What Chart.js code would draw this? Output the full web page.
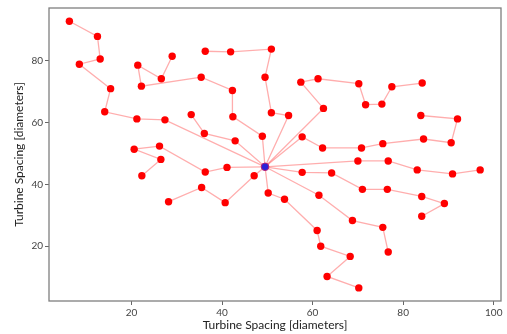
<!DOCTYPE html>
<html>
<head>
<meta charset="utf-8">
<script src="https://cdn.jsdelivr.net/npm/chart.js@4/dist/chart.umd.min.js"></script>
<style>
  html, body { margin: 0; padding: 0; background: #fff; }
  #wrap { width: 507px; height: 334px; position: relative; }
</style>
</head>
<body>
<div id="wrap"><canvas id="chart"></canvas></div>
<script>
// substation in the middle, every cable is a chain of turbines hanging off it
const hub = [49.5, 45.7]
const cable1 = [[27.4,60.9],[21.2,61.2],[14.1,63.5],[15.4,71.0],[8.5,78.9],[13.1,80.6],[12.5,87.9],[6.3,92.8]]
const cable2 = [[48.9,55.6],[42.4,61.9],[42.3,70.4],[35.4,74.7],[22.2,71.8],[21.4,78.6],[26.6,74.2],[29.0,81.5]]
const cable3 = [[54.7,62.3],[50.9,63.2],[49.5,74.7],[50.9,83.8],[41.9,82.9],[36.3,83.1]]
const cable4 = [[42.9,54.1],[36.1,56.5],[33.2,62.6]]
const cable5 = [[41.1,45.5],[36.3,44.0],[26.2,52.4],[20.6,51.4],[26.5,48.1],[22.3,42.8]]
const cable6 = [[47.1,42.8],[40.7,34.1],[35.5,39.0],[28.2,34.4]]
const cable7 = [[50.2,37.2],[53.8,35.2],[61.0,25.1],[61.8,20.0],[68.3,16.7],[63.2,10.2],[70.2,6.5]]
const cable8 = [[61.4,36.5],[68.8,28.3],[75.5,26.1],[76.7,18.1]]
const cable9 = [[57.7,43.9],[64.2,43.7],[71.0,38.4],[76.5,38.4],[84.1,36.1],[89.1,33.8],[84.1,29.7]]
const cable10 = [[70.0,47.6],[76.7,47.6],[83.1,44.7],[90.9,43.4],[97.0,44.7]]
const cable11 = [[57.7,55.4],[62.2,51.8],[70.8,51.8],[75.5,53.2],[84.5,54.7],[90.6,53.5],[92.0,61.2],[83.9,62.3]]
const cable12 = [[62.4,64.6],[57.4,73.1],[61.2,74.2],[70.2,72.6],[71.7,65.8],[75.3,66.0],[77.5,71.6],[84.2,72.8]]
const cables = [cable1, cable2, cable3, cable4, cable5, cable6, cable7, cable8, cable9, cable10, cable11, cable12]

const xTicks = [20, 40, 60, 80, 100]
const yTicks = [20, 40, 60, 80]
const axisTitle = 'Turbine Spacing [diameters]'

const pt = p => ({x: p[0], y: p[1]})
const fam = 'Lato'

const datasets = []
// hub first + turbines second so they sit on top of the cables
datasets.push({
  data: [pt(hub)],
  pointRadius: 3.8,
  backgroundColor: '#2b22d8',
  borderColor: '#b0207a',
  borderWidth: 1,
  showLine: false
})
datasets.push({
  data: cables.flat().map(pt),
  pointRadius: 3.7,
  backgroundColor: '#ff0000',
  borderColor: '#ff0000',
  borderWidth: 0,
  showLine: false
})
for (let c of cables) {
  datasets.push({
    data: [hub].concat(c).map(pt),
    showLine: true,
    pointRadius: 0,
    borderColor: 'rgba(255,0,0,0.32)',
    borderWidth: 1.3,
    fill: false
  })
}

const frame = {
  id: 'frame',
  afterDraw(chart) {
    const {ctx, chartArea: a} = chart
    ctx.save()
    ctx.strokeStyle = '#7f7f7f'
    ctx.lineWidth = 1.3
    ctx.strokeRect(a.left, a.top, a.right - a.left, a.bottom - a.top)
    ctx.restore()
  }
}

new Chart('chart', {
  type: 'scatter',
  data: { datasets: datasets },
  plugins: [frame],
  options: {
    responsive: true,
    maintainAspectRatio: false,
    animation: false,
    layout: { padding: { left: 0, top: 7, right: 6, bottom: 0 } },
    plugins: { legend: { display: false }, tooltip: { enabled: false } },
    scales: {
      x: {
        type: 'linear',
        min: 1.8,
        max: 101.6,
        afterBuildTicks: s => { s.ticks = xTicks.map(v => ({value: v})) },
        afterFit: s => { s.height = 33 },
        ticks: { font: { size: 10, family: fam }, color: '#444', padding: 2, maxRotation: 0 },
        grid: { drawOnChartArea: false, tickLength: 4, tickColor: '#666' },
        border: { display: false },
        title: { display: true, text: axisTitle, color: '#222', font: { size: 12, family: fam }, padding: { top: 0, bottom: 2 } }
      },
      y: {
        type: 'linear',
        min: 2.26,
        max: 97.1,
        afterBuildTicks: s => { s.ticks = yTicks.map(v => ({value: v})) },
        afterFit: s => { s.width = 49 },
        ticks: { font: { size: 10, family: fam }, color: '#444', padding: 2 },
        grid: { drawOnChartArea: false, tickLength: 4, tickColor: '#666' },
        border: { display: false },
        title: { display: true, text: axisTitle, color: '#222', font: { size: 12, family: fam }, padding: { top: 12, bottom: 0 } }
      }
    }
  }
})
</script>
</body>
</html>
